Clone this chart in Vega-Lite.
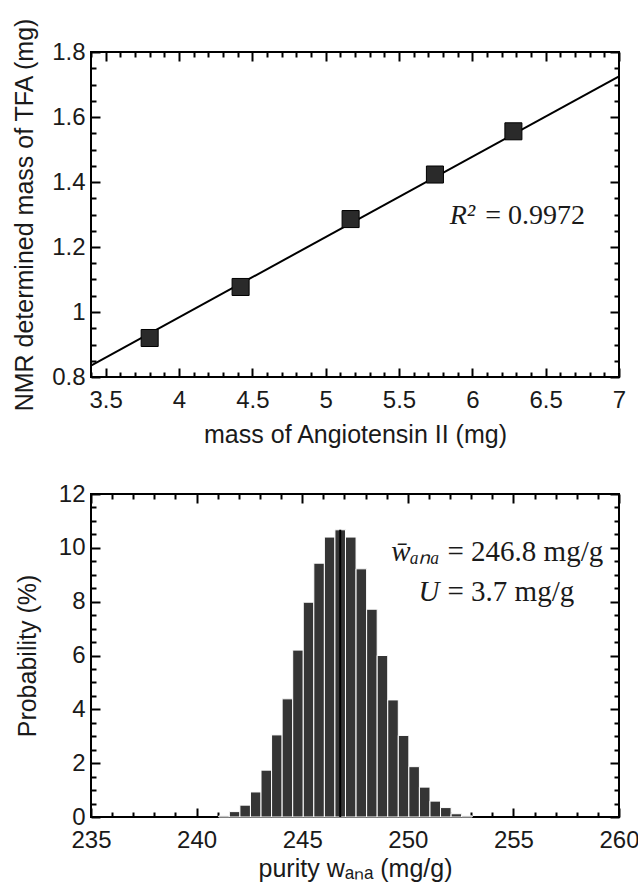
{
  "$schema": "https://vega.github.io/schema/vega-lite/v6.json",
  "padding": {"left": 11, "top": 16, "right": 0, "bottom": 0},
  "spacing": 33,
  "config": {
    "view": {"stroke": "black", "strokeWidth": 2},
    "axis": {
      "grid": false, "domain": false,
      "tickColor": "black", "tickWidth": 2,
      "labelFont": "Liberation Sans", "labelFontSize": 24, "labelColor": "#1a1a1a",
      "titleFont": "Liberation Sans", "titleFontSize": 25, "titleFontWeight": "normal", "titleColor": "#1a1a1a",
      "labelFlush": false, "labelOverlap": false
    }
  },
  "datasets": {
    "pts": [
      {"mass": 3.80, "tfa": 0.920},
      {"mass": 4.42, "tfa": 1.077},
      {"mass": 5.17, "tfa": 1.286},
      {"mass": 5.745, "tfa": 1.423},
      {"mass": 6.28, "tfa": 1.556}
    ],
    "fit": [
      {"mass": 3.4, "tfa": 0.835},
      {"mass": 7.0, "tfa": 1.725}
    ],
    "r2a": [{"mass": 6.02, "tfa": 1.295, "t": "R²"}],
    "r2b": [{"mass": 6.02, "tfa": 1.295, "t": "= 0.9972"}],
    "hist": [
      {"lo": 241.05, "hi": 241.55, "p": 0.04},
      {"lo": 241.55, "hi": 242.05, "p": 0.2},
      {"lo": 242.05, "hi": 242.55, "p": 0.44},
      {"lo": 242.55, "hi": 243.05, "p": 0.93},
      {"lo": 243.05, "hi": 243.55, "p": 1.74},
      {"lo": 243.55, "hi": 244.05, "p": 3.05},
      {"lo": 244.05, "hi": 244.55, "p": 4.39},
      {"lo": 244.55, "hi": 245.05, "p": 6.2},
      {"lo": 245.05, "hi": 245.55, "p": 7.98},
      {"lo": 245.55, "hi": 246.05, "p": 9.43},
      {"lo": 246.05, "hi": 246.55, "p": 10.4},
      {"lo": 246.55, "hi": 247.05, "p": 10.67},
      {"lo": 247.05, "hi": 247.55, "p": 10.4},
      {"lo": 247.55, "hi": 248.05, "p": 9.22},
      {"lo": 248.05, "hi": 248.55, "p": 7.72},
      {"lo": 248.55, "hi": 249.05, "p": 6.0},
      {"lo": 249.05, "hi": 249.55, "p": 4.35},
      {"lo": 249.55, "hi": 250.05, "p": 3.03},
      {"lo": 250.05, "hi": 250.55, "p": 1.87},
      {"lo": 250.55, "hi": 251.05, "p": 1.11},
      {"lo": 251.05, "hi": 251.55, "p": 0.59},
      {"lo": 251.55, "hi": 252.05, "p": 0.35},
      {"lo": 252.05, "hi": 252.55, "p": 0.12},
      {"lo": 252.55, "hi": 253.05, "p": 0.04}
    ],
    "mean": [{"w": 246.8, "top": 10.67}],
    "annA": [
      {"w": 251.5, "p": 9.85, "t": "w̄ₐₙₐ"},
      {"w": 251.5, "p": 8.35, "t": "U"}
    ],
    "annB": [
      {"w": 251.5, "p": 9.85, "t": "= 246.8 mg/g"},
      {"w": 251.5, "p": 8.35, "t": "= 3.7 mg/g"}
    ]
  },
  "vconcat": [
    {
      "width": 528,
      "height": 325,
      "layer": [
        {
          "data": {"name": "fit"},
          "mark": {"type": "line", "color": "black", "strokeWidth": 2},
          "encoding": {
            "x": {
              "field": "mass", "type": "quantitative",
              "scale": {"domain": [3.4, 7], "nice": false, "zero": false},
              "axis": {
                "orient": "bottom", "title": "mass of Angiotensin II (mg)",
                "values": [3.4,3.5,3.6,3.7,3.8,3.9,4,4.1,4.2,4.3,4.4,4.5,4.6,4.7,4.8,4.9,5,5.1,5.2,5.3,5.4,5.5,5.6,5.7,5.8,5.9,6,6.1,6.2,6.3,6.4,6.5,6.6,6.7,6.8,6.9,7],
                "labelExpr": "abs(datum.value*2 - round(datum.value*2)) < 0.000001 ? format(datum.value, '~g') : ''",
                "tickSize": {"condition": {"test": "abs(datum.value*2 - round(datum.value*2)) < 0.000001", "value": -9}, "value": -5},
                "labelPadding": 20, "titlePadding": 6
              }
            },
            "y": {
              "field": "tfa", "type": "quantitative",
              "scale": {"domain": [0.8, 1.8], "nice": false, "zero": false},
              "axis": {
                "orient": "left", "title": "NMR determined mass of TFA (mg)",
                "values": [0.8,0.85,0.9,0.95,1,1.05,1.1,1.15,1.2,1.25,1.3,1.35,1.4,1.45,1.5,1.55,1.6,1.65,1.7,1.75,1.8],
                "labelExpr": "abs(datum.value*5 - round(datum.value*5)) < 0.000001 ? format(datum.value, '~g') : ''",
                "tickSize": {"condition": {"test": "abs(datum.value*5 - round(datum.value*5)) < 0.000001", "value": -9}, "value": -5},
                "labelPadding": 15, "titlePadding": 14
              }
            }
          }
        },
        {
          "data": {"name": "pts"},
          "mark": {"type": "point", "shape": "square", "filled": true, "size": 290, "color": "#2a2a2a", "stroke": "black", "strokeWidth": 1, "opacity": 1},
          "encoding": {
            "x": {
              "field": "mass", "type": "quantitative",
              "scale": {"domain": [3.4, 7], "nice": false, "zero": false},
              "axis": {
                "orient": "top", "title": null, "labels": false,
                "values": [3.4,3.5,3.6,3.7,3.8,3.9,4,4.1,4.2,4.3,4.4,4.5,4.6,4.7,4.8,4.9,5,5.1,5.2,5.3,5.4,5.5,5.6,5.7,5.8,5.9,6,6.1,6.2,6.3,6.4,6.5,6.6,6.7,6.8,6.9,7],
                "tickSize": {"condition": {"test": "abs(datum.value*2 - round(datum.value*2)) < 0.000001", "value": -9}, "value": -5}
              }
            },
            "y": {
              "field": "tfa", "type": "quantitative",
              "scale": {"domain": [0.8, 1.8], "nice": false, "zero": false},
              "axis": {
                "orient": "right", "title": null, "labels": false,
                "values": [0.8,0.85,0.9,0.95,1,1.05,1.1,1.15,1.2,1.25,1.3,1.35,1.4,1.45,1.5,1.55,1.6,1.65,1.7,1.75,1.8],
                "tickSize": {"condition": {"test": "abs(datum.value*5 - round(datum.value*5)) < 0.000001", "value": -9}, "value": -5}
              }
            }
          }
        },
        {
          "data": {"name": "r2a"},
          "mark": {"type": "text", "font": "Liberation Serif", "fontSize": 28, "fontStyle": "italic", "align": "right", "baseline": "middle", "color": "#1a1a1a"},
          "encoding": {
            "x": {"field": "mass", "type": "quantitative", "axis": {"orient": "top", "ticks": false, "labels": false, "domain": false, "title": null}},
            "y": {"field": "tfa", "type": "quantitative", "axis": {"orient": "right", "ticks": false, "labels": false, "domain": false, "title": null}},
            "text": {"field": "t", "type": "nominal"}
          }
        },
        {
          "data": {"name": "r2b"},
          "mark": {"type": "text", "font": "Liberation Serif", "fontSize": 28, "align": "left", "baseline": "middle", "dx": 10, "color": "#1a1a1a"},
          "encoding": {
            "x": {"field": "mass", "type": "quantitative", "axis": {"orient": "top", "ticks": false, "labels": false, "domain": false, "title": null}},
            "y": {"field": "tfa", "type": "quantitative", "axis": {"orient": "right", "ticks": false, "labels": false, "domain": false, "title": null}},
            "text": {"field": "t", "type": "nominal"}
          }
        }
      ],
      "resolve": {"axis": {"x": "independent", "y": "independent"}}
    },
    {
      "width": 528,
      "height": 323,
      "layer": [
        {
          "data": {"name": "hist"},
          "mark": {"type": "rect", "color": "#353535", "stroke": "white", "strokeWidth": 1},
          "encoding": {
            "x": {
              "field": "lo", "type": "quantitative",
              "scale": {"domain": [235, 260], "nice": false, "zero": false},
              "axis": {
                "orient": "bottom", "title": "purity wₐₙₐ (mg/g)",
                "values": [235,236,237,238,239,240,241,242,243,244,245,246,247,248,249,250,251,252,253,254,255,256,257,258,259,260],
                "labelExpr": "datum.value % 5 == 0 ? format(datum.value, '~g') : ''",
                "tickSize": {"condition": {"test": "datum.value % 5 == 0", "value": -9}, "value": -5},
                "labelPadding": 20, "titlePadding": 0
              }
            },
            "x2": {"field": "hi"},
            "y": {
              "field": "p", "type": "quantitative",
              "scale": {"domain": [0, 12], "nice": false},
              "axis": {
                "orient": "left", "title": "Probability (%)",
                "values": [0,0.5,1,1.5,2,2.5,3,3.5,4,4.5,5,5.5,6,6.5,7,7.5,8,8.5,9,9.5,10,10.5,11,11.5,12],
                "labelExpr": "datum.value % 2 == 0 ? format(datum.value, '~g') : ''",
                "tickSize": {"condition": {"test": "datum.value % 2 == 0", "value": -9}, "value": -5},
                "labelPadding": 15, "titlePadding": 18
              }
            },
            "y2": {"datum": 0}
          }
        },
        {
          "data": {"name": "mean"},
          "mark": {"type": "rule", "color": "black", "strokeWidth": 2},
          "encoding": {
            "x": {
              "field": "w", "type": "quantitative",
              "scale": {"domain": [235, 260], "nice": false, "zero": false},
              "axis": {
                "orient": "top", "title": null, "labels": false,
                "values": [235,236,237,238,239,240,241,242,243,244,245,246,247,248,249,250,251,252,253,254,255,256,257,258,259,260],
                "tickSize": {"condition": {"test": "datum.value % 5 == 0", "value": -9}, "value": -5}
              }
            },
            "y": {
              "field": "top", "type": "quantitative",
              "scale": {"domain": [0, 12], "nice": false},
              "axis": {
                "orient": "right", "title": null, "labels": false,
                "values": [0,0.5,1,1.5,2,2.5,3,3.5,4,4.5,5,5.5,6,6.5,7,7.5,8,8.5,9,9.5,10,10.5,11,11.5,12],
                "tickSize": {"condition": {"test": "datum.value % 2 == 0", "value": -9}, "value": -5}
              }
            },
            "y2": {"datum": 0}
          }
        },
        {
          "data": {"name": "annA"},
          "mark": {"type": "text", "font": "Liberation Serif", "fontSize": 29, "fontStyle": "italic", "align": "right", "baseline": "middle", "color": "#1a1a1a"},
          "encoding": {
            "x": {"field": "w", "type": "quantitative", "axis": {"orient": "top", "ticks": false, "labels": false, "domain": false, "title": null}},
            "y": {"field": "p", "type": "quantitative", "axis": {"orient": "right", "ticks": false, "labels": false, "domain": false, "title": null}},
            "text": {"field": "t", "type": "nominal"}
          }
        },
        {
          "data": {"name": "annB"},
          "mark": {"type": "text", "font": "Liberation Serif", "fontSize": 29, "align": "left", "baseline": "middle", "dx": 8, "color": "#1a1a1a"},
          "encoding": {
            "x": {"field": "w", "type": "quantitative", "axis": {"orient": "top", "ticks": false, "labels": false, "domain": false, "title": null}},
            "y": {"field": "p", "type": "quantitative", "axis": {"orient": "right", "ticks": false, "labels": false, "domain": false, "title": null}},
            "text": {"field": "t", "type": "nominal"}
          }
        }
      ],
      "resolve": {"axis": {"x": "independent", "y": "independent"}}
    }
  ]
}
